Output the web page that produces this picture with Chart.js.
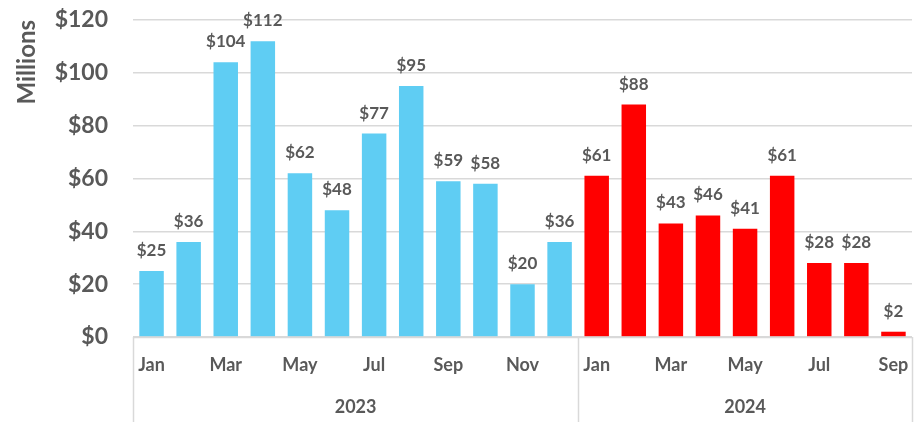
<!DOCTYPE html>
<html><head><meta charset="utf-8">
<script src="https://cdn.jsdelivr.net/npm/chart.js@4/dist/chart.umd.min.js"></script>
<style>html,body{margin:0;padding:0;background:#fff;}#wrap{width:922px;height:422px;position:relative;}</style>
</head><body><div id="wrap"><canvas id="c"></canvas></div>
<script>
const monthNames = ['Jan','Feb','Mar','Apr','May','Jun','Jul','Aug','Sep','Oct','Nov','Dec'];
const years = ['2023','2024'];
const values2023 = [25,36,104,112,62,48,77,95,59,58,20,36];
const values2024 = [61,88,43,46,41,61,28,28,2];
const yTicks = [0,20,40,60,80,100,120];
const color2023 = '#5FCDF3';
const color2024 = '#FF0000';
const textColor = '#595959';
const gridColor = '#D9D9D9';
const FONT = 'Lato';

const yearValues = [values2023, values2024];
const yearColors = [color2023, color2024];
const labels = [], values = [], colors = [], yearOfIndex = [];
yearValues.forEach((arr, yi) => {
  arr.forEach((v, mi) => {
    labels.push(monthNames[mi]);
    values.push(v);
    colors.push(yearColors[yi]);
    yearOfIndex.push(yi);
  });
});

const dataLabelPlugin = {
  id: 'dataLabels',
  afterDatasetsDraw(chart) {
    const ctx = chart.ctx;
    const meta = chart.getDatasetMeta(0);
    ctx.save();
    ctx.font = 'bold 17px ' + FONT;
    ctx.fillStyle = textColor;
    ctx.textAlign = 'center';
    ctx.textBaseline = 'alphabetic';
    meta.data.forEach((bar, i) => {
      ctx.fillText('$' + chart.data.datasets[0].data[i], bar.x, bar.y - 15);
    });
    ctx.restore();
  }
};

const yearAxisPlugin = {
  id: 'yearAxis',
  afterDraw(chart) {
    const ctx = chart.ctx;
    const xs = chart.scales.x;
    const area = chart.chartArea;
    const n = labels.length;
    const step = (xs.right - xs.left) / n;
    const bottom = chart.height;
    ctx.save();
    ctx.strokeStyle = gridColor;
    ctx.lineWidth = 1.5;
    ctx.beginPath();
    ctx.moveTo(xs.left, area.bottom + 0.5);
    ctx.lineTo(xs.right, area.bottom + 0.5);
    const bounds = [0];
    for (let i = 1; i < n; i++) if (yearOfIndex[i] !== yearOfIndex[i-1]) bounds.push(i);
    bounds.push(n);
    bounds.forEach(b => {
      const x = Math.round(xs.getPixelForValue(b) - step / 2) + 0.5;
      ctx.moveTo(x, area.bottom);
      ctx.lineTo(x, bottom);
    });
    ctx.stroke();
    ctx.font = 'bold 18px ' + FONT;
    ctx.fillStyle = textColor;
    ctx.textAlign = 'center';
    ctx.textBaseline = 'middle';
    for (let k = 0; k < bounds.length - 1; k++) {
      const x0 = xs.getPixelForValue(bounds[k]) - step / 2;
      const x1 = xs.getPixelForValue(bounds[k+1]) - step / 2;
      ctx.fillText(years[k], (x0 + x1) / 2, 407);
    }
    ctx.restore();
  }
};

new Chart(document.getElementById('c'), {
  type: 'bar',
  data: {
    labels: labels,
    datasets: [{
      data: values,
      backgroundColor: colors,
      barPercentage: 0.66,
      categoryPercentage: 1.0
    }]
  },
  options: {
    responsive: true,
    maintainAspectRatio: false,
    animation: false,
    layout: { padding: { top: 0, right: 10, left: 0, bottom: 0 } },
    plugins: { legend: { display: false }, tooltip: { enabled: false } },
    scales: {
      x: {
        grid: { display: false },
        border: { display: false },
        ticks: {
          autoSkip: false,
          maxRotation: 0,
          minRotation: 0,
          padding: 9,
          color: textColor,
          font: { family: FONT, size: 18, weight: 'bold' },
          callback: (v, i) => (i % 2 === 0 ? labels[i] : '')
        },
        afterFit(scale) { scale.height = 85; scale.paddingLeft = 0; scale.paddingRight = 0; }
      },
      y: {
        min: 0,
        max: 120,
        afterBuildTicks(scale) { scale.ticks = yTicks.map(v => ({ value: v })); },
        grid: { color: gridColor, lineWidth: 1.5, drawTicks: false },
        border: { display: false },
        ticks: {
          padding: 25,
          color: textColor,
          font: { family: FONT, size: 23, weight: 'bold' },
          callback: v => '$' + v
        },
        title: {
          display: true,
          text: 'Millions',
          align: 'end',
          color: textColor,
          font: { family: FONT, size: 24, weight: 'bold' },
          padding: { top: 13, bottom: 0 }
        },
        afterFit(scale) { scale.width = 133; scale.paddingTop = 20; scale.paddingBottom = 0; }
      }
    }
  },
  plugins: [dataLabelPlugin, yearAxisPlugin]
});
</script>
</body></html>
